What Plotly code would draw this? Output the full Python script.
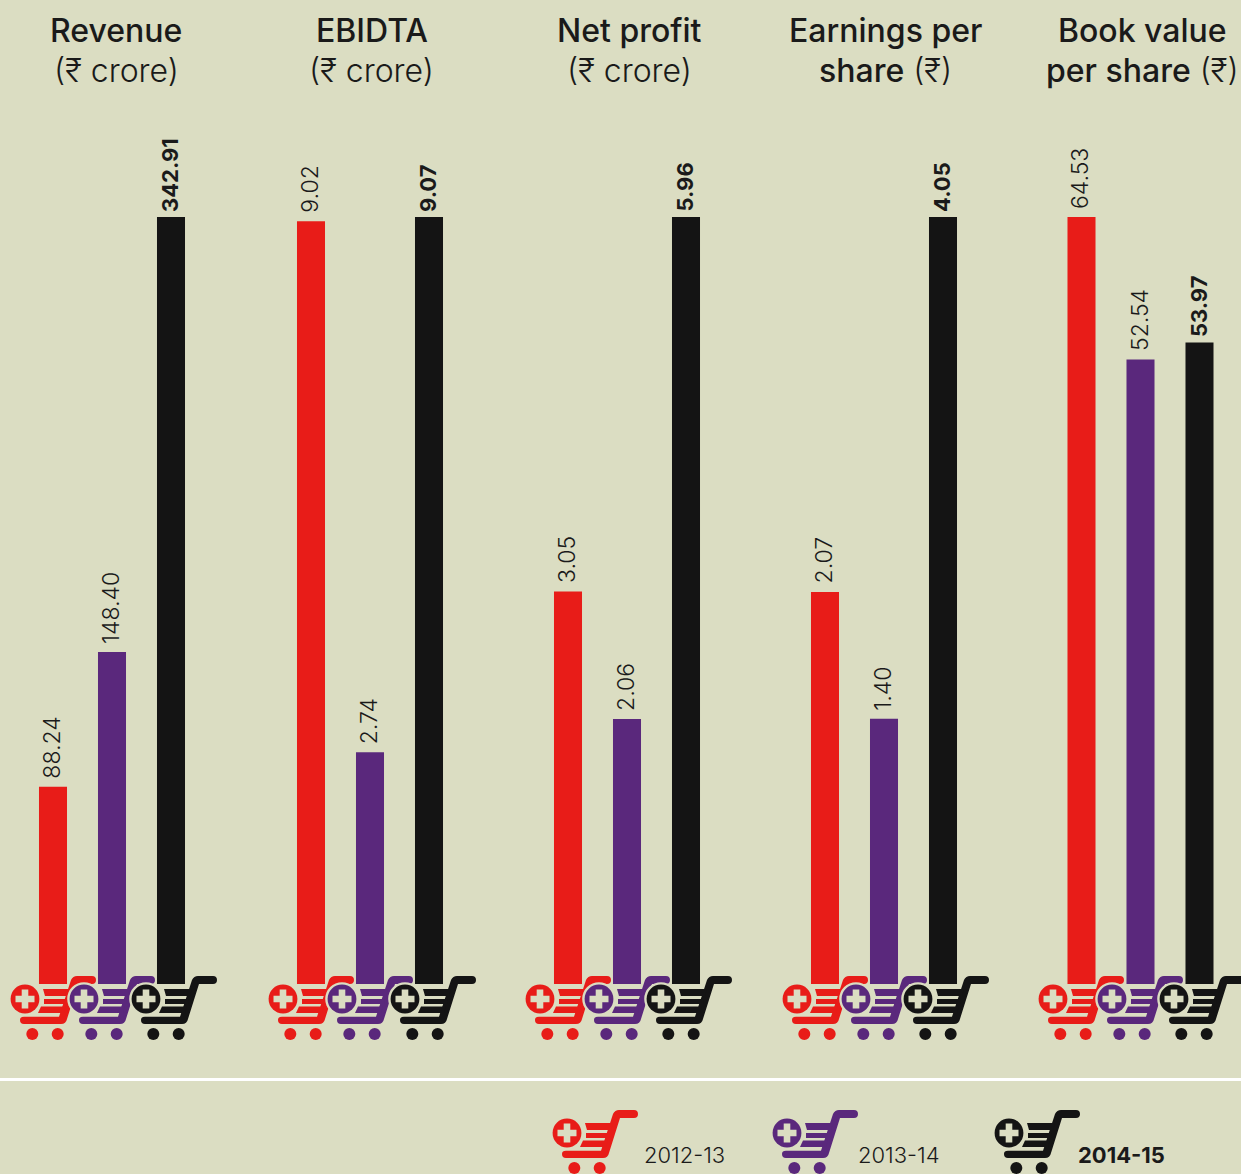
import plotly.graph_objects as go

W, H = 1241, 1174
years = ["2012-13", "2013-14", "2014-15"]
metrics = ["Revenue", "EBIDTA", "Net profit", "Earnings per share", "Book value per share"]
values_2012_13 = [88.24, 9.02, 3.05, 2.07, 64.53]
values_2013_14 = [148.40, 2.74, 2.06, 1.40, 52.54]
values_2014_15 = [342.91, 9.07, 5.96, 4.05, 53.97]
labels_2012_13 = ["88.24", "9.02", "3.05", "2.07", "64.53"]
labels_2013_14 = ["148.40", "2.74", "2.06", "1.40", "52.54"]
labels_2014_15 = ["342.91", "9.07", "5.96", "4.05", "53.97"]
titles = [("Revenue", "(₹ crore)"), ("EBIDTA", "(₹ crore)"), ("Net profit", "(₹ crore)"),
          ("Earnings per", "share (₹)"), ("Book value", "per share (₹)")]

BG = "#DBDDC2"
RED, PURPLE, BLACK = "#E81C18", "#5A287C", "#141414"
colors = [RED, PURPLE, BLACK]
FONT = "Inter"
TEXT = "#1a1a1a"

panel_left = [23.5, 281.5, 538.5, 795.5, 1052]
panel_w = 177
y_top, y_bottom = 217, 984

fx = lambda x: x / W
fy = lambda y: 1 - y / H

fig = go.Figure()
series = [(values_2012_13, labels_2012_13), (values_2013_14, labels_2013_14), (values_2014_15, labels_2014_15)]
layout_axes = {}
annotations = []
for p in range(5):
    sfx = "" if p == 0 else str(p + 1)
    top = max(s[0][p] for s in series)
    layout_axes["xaxis" + sfx] = dict(domain=[fx(panel_left[p]), fx(panel_left[p] + panel_w)], type="category",
                                      categoryorder="array", categoryarray=years, range=[-0.5, 2.5],
                                      visible=False, anchor="y" + sfx, fixedrange=True)
    layout_axes["yaxis" + sfx] = dict(domain=[fy(y_bottom), fy(y_top)], range=[0, top], visible=False,
                                      anchor="x" + sfx, fixedrange=True)
    for i, (vals, labs) in enumerate(series):
        fig.add_trace(go.Bar(
            x=[years[i]], y=[vals[p]], xaxis="x" + sfx, yaxis="y" + sfx, name=years[i], showlegend=False,
            marker=dict(color=colors[i], line=dict(width=0)), hoverinfo="x+y",
        ))
        annotations.append(dict(
            text=labs[p], x=years[i], y=vals[p], xref="x" + sfx, yref="y" + sfx, showarrow=False,
            textangle=-90, xanchor="center", yanchor="bottom", yshift=4 if i == 2 else 7,
            xshift=-1, borderpad=0,
            font=dict(family=FONT, size=22 if i == 2 else 23, color=TEXT, weight=700 if i == 2 else 300),
        ))


def P(pts):
    out = []
    for t in pts:
        nums = t[1:]
        coords = [f"{fx(nums[k]):.5f},{fy(nums[k+1]):.5f}" for k in range(0, len(nums), 2)]
        out.append(t[0] + " ".join(coords))
    return " ".join(out) + " Z"


def add_cart(shapes, cx, cy, color):
    def path(pts, c=color):
        shapes.append(dict(type="path", xref="paper", yref="paper", fillcolor=c, line=dict(width=0),
                           path=P([(t[0], *[v + (cx if j % 2 == 0 else cy) for j, v in enumerate(t[1:])]) for t in pts])))

    def circ(x, y, r, c):
        shapes.append(dict(type="circle", xref="paper", yref="paper", fillcolor=c, line=dict(width=0),
                           x0=fx(cx + x - r), x1=fx(cx + x + r), y0=fy(cy + y + r), y1=fy(cy + y - r)))

    path([("M", 52, -23), ("L", 67, -23), ("Q", 71, -23, 71, -19), ("Q", 71, -15, 67, -15), ("L", 53, -15),
          ("L", 42, 20), ("Q", 41, 25, 36, 25), ("L", -1, 25), ("Q", -5, 25, -5, 21), ("Q", -5, 17.7, -1, 17.7),
          ("L", 34, 17.7), ("L", 46, -19), ("Q", 48, -23, 52, -23)])
    path([("M", 18, -10), ("L", 46, -10), ("L", 44, -3), ("L", 20, -3)])
    path([("M", 19, 0), ("L", 43, 0), ("L", 42, 5), ("L", 19, 5)])
    path([("M", 16, 7.5), ("L", 41, 7.5), ("L", 39, 14), ("L", 13, 14)])
    circ(7.3, 35, 6, color)
    circ(32.7, 35, 6, color)
    circ(0, 0, 16.8, BG)
    circ(0, 0, 14.4, color)
    a, b = 9.5, 3.3
    path([("M", -a, -b), ("L", -b, -b), ("L", -b, -a), ("L", b, -a), ("L", b, -b), ("L", a, -b),
          ("L", a, b), ("L", b, b), ("L", b, a), ("L", -b, a), ("L", -b, b), ("L", -a, b)], BG)


shapes = []
cart_x = [[25, 84, 146], [283, 342, 405], [540, 599, 661], [797, 856, 918], [1053, 1112, 1174]]
for row in cart_x:
    for x, c in zip(row, colors):
        add_cart(shapes, x, 999, c)
for x, c in zip([567, 787, 1009], colors):
    add_cart(shapes, x, 1133, c)
shapes.append(dict(type="line", xref="paper", yref="paper", x0=0, x1=1, y0=fy(1079.5), y1=fy(1079.5),
                   line=dict(color="#FFFFFF", width=3)))


def note(text, x, y, size, weight, anchor="center"):
    annotations.append(dict(text=text, xref="paper", yref="paper", x=fx(x), y=fy(y), showarrow=False,
                            xanchor=anchor, yanchor="middle", align="center",
                            font=dict(family=FONT, size=size, color=TEXT, weight=weight)))


centers = [116, 372, 629, 885, 1142]
for (t1, t2), c in zip(titles, centers):
    note(t1, c, 30, 32, 500)
    if t2.endswith("crore)"):
        note(t2, c, 70, 32, 300)
    elif t2.startswith("share"):
        note('<span style="font-weight:500">share</span> (₹)', c, 70, 32, 300)
    else:
        note('<span style="font-weight:500">per share</span> (₹)', c, 70, 32, 300)
note(years[0], 642, 1155, 22, 300, "left")
note(years[1], 856, 1155, 22, 300, "left")
note(years[2], 1076, 1155, 22, 700, "left")

fig.update_layout(
    width=W, height=H, margin=dict(l=0, r=0, t=0, b=0), autosize=False,
    paper_bgcolor=BG, plot_bgcolor=BG, barmode="overlay", bargap=0.525,
    shapes=shapes, annotations=annotations, showlegend=False,
    font=dict(family=FONT), **layout_axes,
)
fig.write_html("out.html", config=dict(displayModeBar=False),
               post_script="document.body.style.margin='0';document.body.style.overflow='hidden';")
